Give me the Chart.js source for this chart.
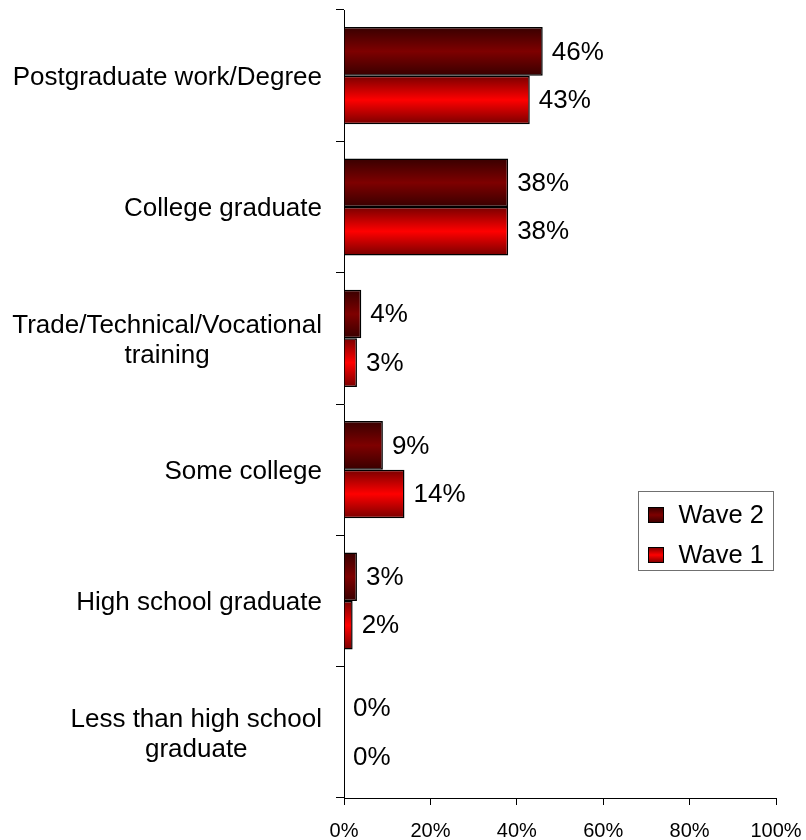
<!DOCTYPE html>
<html>
<head>
<meta charset="utf-8">
<script src="https://cdn.jsdelivr.net/npm/chart.js@4"></script>
<style>
  body { margin: 0; background: #fff; }
</style>
</head>
<body>
<canvas id="educationChart" width="806" height="840"></canvas>
<script>
// categories, top to bottom (arrays = wrapped labels)
const categories = [
    'Postgraduate work/Degree',
    'College graduate',
    ['Trade/Technical/Vocational', 'training'],
    'Some college',
    'High school graduate',
    ['Less than high school', 'graduate']
];
const wave2 = [46, 38, 4, 9, 3, 0];
const wave1 = [43, 38, 3, 14, 2, 0];
const xTicks = [0, 20, 40, 60, 80, 100];

const FONT = '"Liberation Sans", Arial, sans-serif';
const CAT_PCT = 0.74;

// dark edge / bright middle, like the old Excel cylinder fill
const shades = {
    wave2: ['#380000', '#7e0000'],
    wave1: ['#780000', '#ff0000']
};

function makeGradient(c, top, h, pair) {
    const g = c.createLinearGradient(0, top, 0, top + h);
    g.addColorStop(0, pair[0]);
    g.addColorStop(0.5, pair[1]);
    g.addColorStop(1, pair[0]);
    return g;
}

// swap flat fills for gradients once bars have their geometry
const barShading = {
    id: 'barShading',
    beforeDatasetsDraw(chart) {
        const pairs = [shades.wave2, shades.wave1];
        chart.data.datasets.forEach((ds, i) => {
            chart.getDatasetMeta(i).data.forEach(el => {
                const top = el.y - el.height / 2;
                if (Number.isFinite(top) && el.height > 0) {
                    el.options.backgroundColor = makeGradient(chart.ctx, top, el.height, pairs[i]);
                }
            });
        });
    }
};

// value labels to the right of each bar
const valueLabels = {
    id: 'valueLabels',
    afterDatasetsDraw(chart) {
        const c = chart.ctx;
        c.save();
        c.font = '26px ' + FONT;
        c.fillStyle = '#000';
        c.textAlign = 'left';
        c.textBaseline = 'middle';
        chart.data.datasets.forEach((ds, i) => {
            chart.getDatasetMeta(i).data.forEach((el, j) => {
                c.fillText(ds.data[j] + '%', el.x + 9, el.y + 1);
            });
        });
        c.restore();
    }
};

// category labels: block right-aligned to the axis, lines centred
const categoryLabels = {
    id: 'categoryLabels',
    afterDraw(chart) {
        const c = chart.ctx;
        const y = chart.scales.y;
        c.save();
        c.font = '26px ' + FONT;
        c.fillStyle = '#000';
        c.textAlign = 'center';
        c.textBaseline = 'middle';
        categories.forEach((lab, i) => {
            const lines = Array.isArray(lab) ? lab : [lab];
            const w = Math.max(...lines.map(l => c.measureText(l).width));
            const cx = y.right - 22 - w / 2;
            const cy = y.getPixelForValue(i);
            lines.forEach((l, k) => {
                c.fillText(l, cx, cy + 2 + (k - (lines.length - 1) / 2) * 30);
            });
        });
        c.restore();
    }
};

// boxed legend sitting inside the plot, Wave 2 first
const boxLegend = {
    id: 'boxLegend',
    afterDraw(chart) {
        const c = chart.ctx;
        const a = chart.chartArea;
        const x0 = Math.round(a.right) - 137.5, y0 = 491.5, w = 135, h = 79;
        c.save();
        c.fillStyle = '#fff';
        c.fillRect(x0, y0, w, h);
        c.strokeStyle = '#707070';
        c.lineWidth = 1;
        c.strokeRect(x0, y0, w, h);
        const items = [['Wave 2', shades.wave2], ['Wave 1', shades.wave1]];
        c.font = '25.5px ' + FONT;
        c.textBaseline = 'middle';
        c.textAlign = 'left';
        items.forEach((it, k) => {
            const cy = 515 + k * 40;
            c.fillStyle = makeGradient(c, cy - 8, 16, it[1]);
            c.fillRect(x0 + 9.5, cy - 8, 16, 16);
            c.strokeStyle = '#000';
            c.strokeRect(x0 + 10, cy - 7.5, 15, 15);
            c.fillStyle = '#000';
            c.fillText(it[0], x0 + 40, cy + 1);
        });
        c.restore();
    }
};

new Chart(document.getElementById('educationChart'), {
    type: 'bar',
    data: {
        labels: categories,
        datasets: [{
            label: 'Wave 2',
            data: wave2,
            backgroundColor: () => shades.wave2[1],
            borderColor: '#000',
            borderWidth: 1.5,
            categoryPercentage: CAT_PCT,
            barPercentage: 1
        }, {
            label: 'Wave 1',
            data: wave1,
            backgroundColor: () => shades.wave1[1],
            borderColor: '#000',
            borderWidth: 1.5,
            categoryPercentage: CAT_PCT,
            barPercentage: 1
        }]
    },
    options: {
        indexAxis: 'y',
        responsive: false,
        animation: false,
        layout: { padding: { top: 10, right: 30, left: 0, bottom: 0 } },
        scales: {
            x: {
                min: 0,
                max: 100,
                afterBuildTicks(scale) {
                    scale.ticks = xTicks.map(v => ({ value: v }));
                },
                afterFit(scale) {
                    scale.height = 42;
                    scale.paddingLeft = 0;
                    scale.paddingRight = 0;
                },
                grid: { drawOnChartArea: false, drawTicks: true, tickLength: 7, color: '#000' },
                border: { color: '#000', width: 1 },
                ticks: {
                    padding: 14,
                    color: '#000',
                    font: { family: FONT, size: 20 },
                    callback: v => v + '%'
                }
            },
            y: {
                afterFit(scale) { scale.width = 344; },
                grid: { drawOnChartArea: false, drawTicks: true, tickLength: 8, color: '#000', offset: true },
                border: { color: '#000', width: 1 },
                ticks: { display: false }
            }
        },
        plugins: {
            legend: { display: false },
            tooltip: { enabled: false }
        }
    },
    plugins: [barShading, valueLabels, categoryLabels, boxLegend]
});
</script>
</body>
</html>
